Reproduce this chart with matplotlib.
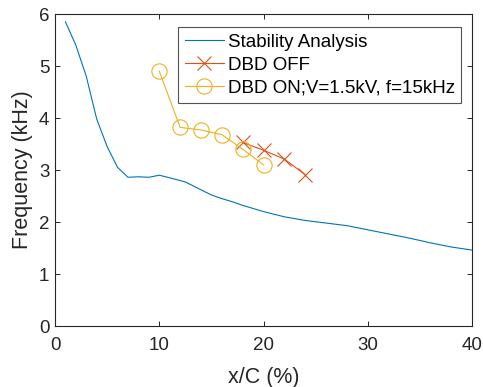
import matplotlib
matplotlib.use('Agg')
import matplotlib.pyplot as plt

plt.rcParams['font.family'] = ['Liberation Sans', 'DejaVu Sans']

# Stability analysis curve
stab_x = [1, 2, 3, 4, 5, 6, 7, 8, 9, 10, 11, 12.5, 14, 15, 16, 17, 18, 20,
          22, 24, 26, 28, 30, 32, 34, 36, 38, 40]
stab_y = [5.85, 5.4, 4.8, 3.98, 3.45, 3.05, 2.86, 2.87, 2.86, 2.90, 2.85, 2.77,
          2.62, 2.52, 2.45, 2.39, 2.32, 2.20, 2.10, 2.03, 1.98, 1.93, 1.85,
          1.77, 1.69, 1.60, 1.52, 1.46]

# DBD off
off_x = [18, 20, 22, 24]
off_y = [3.53, 3.38, 3.21, 2.91]

# DBD on
on_x = [10, 12, 14, 16, 18, 20]
on_y = [4.9, 3.82, 3.77, 3.68, 3.4, 3.1]

fig = plt.figure(figsize=(4.83, 3.87), dpi=100)
ax = fig.add_axes([0.1139, 0.1576, 0.8634, 0.8062])

ax.plot(stab_x, stab_y, color='#0072BD', lw=0.8, label='Stability Analysis')
ax.plot(off_x, off_y, color='#D95319', lw=0.8, marker='x', markersize=9.5,
        markeredgewidth=0.8, label='DBD OFF')
ax.plot(on_x, on_y, color='#EDB120', lw=0.8, marker='o', markersize=11,
        markerfacecolor='none', markeredgewidth=0.8,
        label='DBD ON;V=1.5kV, f=15kHz')

ax.set_xlim(0, 40)
ax.set_ylim(0, 6)
ax.set_xticks([0, 10, 20, 30, 40])
ax.set_yticks([0, 1, 2, 3, 4, 5, 6])
ax.tick_params(direction='in', top=True, right=True, labelsize=13.5,
               length=3.5, width=0.7, colors='#262626')
ax.tick_params(axis='x', pad=8)
ax.tick_params(axis='y', pad=4)
for s in ax.spines.values():
    s.set_linewidth(0.8)
    s.set_color('#262626')

ax.set_xlabel('x/C (%)', fontsize=15.5, color='#262626', labelpad=9)
ax.set_ylabel('Frequency (kHz)', fontsize=15.5, color='#262626', labelpad=4)

leg = ax.legend(loc='upper right', bbox_to_anchor=(0.974, 0.958), fontsize=13.5,
                frameon=True, fancybox=False, edgecolor='#262626',
                handlelength=2.1, handletextpad=0.2, borderpad=0.35,
                labelspacing=0.3, borderaxespad=0)
leg.get_frame().set_linewidth(0.8)

fig.savefig('out.png', dpi=100)
